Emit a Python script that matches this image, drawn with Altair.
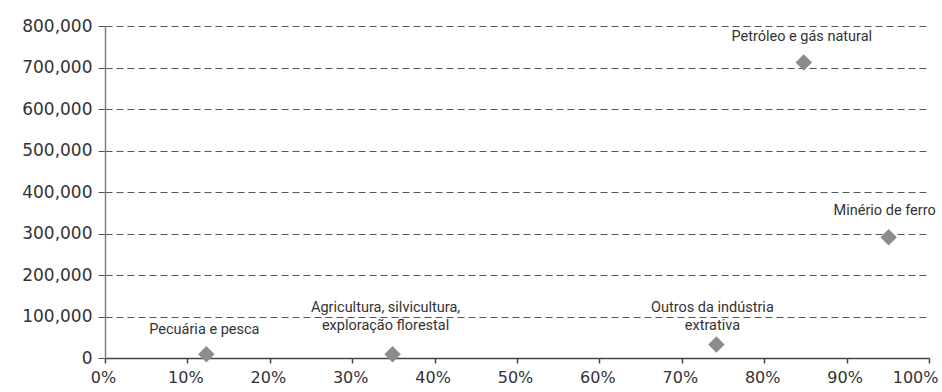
import altair as alt
import pandas as pd

# Activity sectors: share (%) on x, value on y
sectors = [
    "Pecuária e pesca",
    "Agricultura, silvicultura,\nexploração florestal",
    "Outros da indústria\nextrativa",
    "Petróleo e gás natural",
    "Minério de ferro",
]
share_pct = [12.3, 34.9, 74.2, 84.8, 95.1]
value = [9000, 9000, 32500, 712000, 291000]

df = pd.DataFrame({"sector": sectors, "share": share_pct, "value": value})

FONT_AXIS = "DejaVu Sans"
FONT_LABEL = "Roboto"
TEXT_COLOR = "#333333"

x_enc = alt.X(
    "share:Q",
    scale=alt.Scale(domain=[0, 100], nice=False),
    axis=alt.Axis(
        values=list(range(0, 101, 10)),
        labelExpr="datum.value + '%'",
        title=None,
        grid=False,
        domainColor="#444444",
        domainWidth=1.5,
        tickColor="#444444",
        tickWidth=1.5,
        tickSize=5,
        labelPadding=6,
        labelFont=FONT_AXIS,
        labelFontSize=16,
        labelColor=TEXT_COLOR,
        labelFlush=False,
        labelAlign={"expr": "datum.value == 100 ? 'right' : 'center'"},
        labelOffset={"expr": "datum.value == 100 ? 9 : -2"},
    ),
)
y_enc = alt.Y(
    "value:Q",
    scale=alt.Scale(domain=[0, 800000], nice=False),
    axis=alt.Axis(
        values=list(range(0, 800001, 100000)),
        format=",d",
        title=None,
        grid=True,
        gridDash=[7, 4],
        gridColor="#555555",
        gridWidth=1,
        domainColor="#808080",
        domainWidth=1.5,
        tickColor="#555555",
        tickWidth=1,
        tickSize=7,
        labelPadding=6,
        labelFont=FONT_AXIS,
        labelFontSize=17,
        labelColor=TEXT_COLOR,
    ),
)

base = alt.Chart(df)

points = base.mark_point(
    shape="diamond", filled=True, size=270, color="#8c8c8c", opacity=1
).encode(x=x_enc, y=y_enc)

# Per-sector label offsets (first text line) relative to the marker
offsets = {
    "Pecuária e pesca": (-2, -24),
    "Agricultura, silvicultura,\nexploração florestal": (-7, -46),
    "Outros da indústria\nextrativa": (-4, -37),
    "Petróleo e gás natural": (-2, -26),
    "Minério de ferro": (-4, -26),
}

labels = []
for name, (dx, dy) in offsets.items():
    labels.append(
        base.transform_filter(alt.datum.sector == name)
        .mark_text(
            dx=dx,
            dy=dy,
            font=FONT_LABEL,
            fontSize=14.5,
            color=TEXT_COLOR,
            align="center",
            baseline="middle",
            lineBreak="\n",
            lineHeight=18,
        )
        .encode(x="share:Q", y="value:Q", text="sector:N")
    )

chart = (
    alt.layer(points, *labels)
    .properties(
        width=824,
        height=332,
        autosize=alt.AutoSizeParams(type="none"),
        padding={"left": 105, "top": 26, "right": 13, "bottom": 34},
        background="white",
    )
    .configure_view(stroke=None)
)

chart.save("out.html", embed_options={"renderer": "svg", "actions": False})
